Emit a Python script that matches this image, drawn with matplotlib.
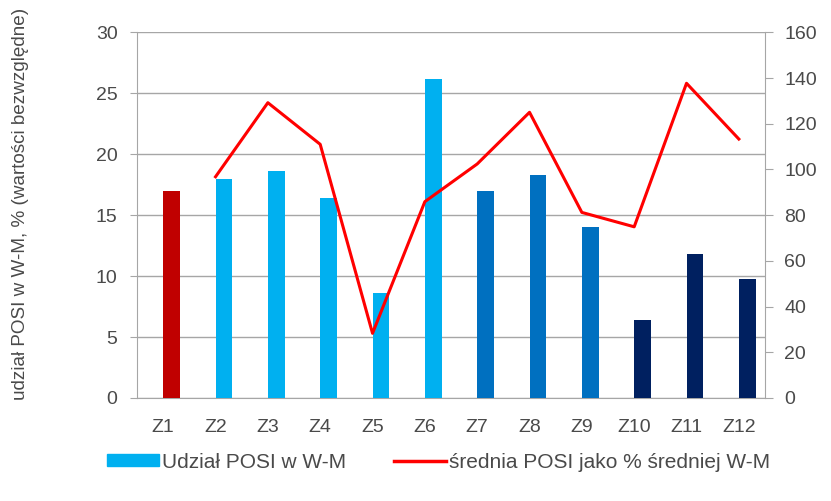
import numpy as np
import matplotlib.pyplot as plt
from matplotlib.patches import Patch
from matplotlib.lines import Line2D

plt.rcParams['font.family'] = ['Liberation Sans', 'DejaVu Sans']

# dane
kategorie = ['Z1', 'Z2', 'Z3', 'Z4', 'Z5', 'Z6', 'Z7', 'Z8', 'Z9', 'Z10', 'Z11', 'Z12']
udzial = [17.0, 18.0, 18.6, 16.4, 8.6, 26.2, 17.0, 18.3, 14.0, 6.4, 11.8, 9.8]
srednia = [None, 96.8, 129.2, 111.0, 28.3, 85.9, 102.4, 125.0, 81.2, 74.9, 137.7, 113.3]
kolory = ['#C00000'] + ['#00B0F0'] * 5 + ['#0070C0'] * 3 + ['#002060'] * 3

x = np.arange(len(kategorie))
sr = np.array([np.nan if v is None else v for v in srednia])

fs = 14
szary = '#4A4A4A'

fig = plt.figure(figsize=(8.31, 5.01), dpi=100)
ax = fig.add_axes([0.1649, 0.2056, 0.9206 - 0.1649, 0.9355 - 0.2056])

# slupki lekko przesuniete w prawo (jak w Excelu)
ax.bar(x + 0.16, udzial, width=0.32, color=kolory, zorder=3)
ax.set_xlim(-0.5, 11.5)
ax.set_ylim(0, 30)
ax.set_yticks(range(0, 31, 5))
ax.set_xticks(x)
ax.set_xticklabels(kategorie)
ax.grid(axis='y', color='#A6A6A6', linewidth=1, zorder=0)
for s in ['top', 'right']:
    ax.spines[s].set_visible(False)
for s in ['left', 'bottom']:
    ax.spines[s].set_color('#A6A6A6')
ax.tick_params(axis='x', length=0, pad=15, labelsize=fs, labelcolor=szary)
ax.tick_params(axis='y', length=5, color='#A6A6A6', pad=9, labelsize=fs, labelcolor=szary)

ax2 = ax.twinx()
ax2.plot(x, sr, color='#FF0000', linewidth=2.2, zorder=4)
ax2.set_ylim(0, 160)
ax2.set_yticks(range(0, 161, 20))
for s in ['top', 'left', 'bottom']:
    ax2.spines[s].set_visible(False)
ax2.spines['right'].set_color('#A6A6A6')
ax2.tick_params(axis='y', length=6, color='#A6A6A6', pad=8, labelsize=fs, labelcolor=szary)

fig.text(21 / 831, 1 - 204 / 501, 'udział POSI w W-M, % (wartości bezwzględne)',
         rotation=90, va='center', ha='center', fontsize=13.6, color=szary)

uchwyty = [Patch(color='#00B0F0'), Line2D([], [], color='#FF0000', linewidth=2.5)]
fig.legend(uchwyty, ['Udział POSI w W-M', 'średnia POSI jako % średniej W-M'],
           loc='center left', bbox_to_anchor=(107 / 831, 1 - 462 / 501), ncol=2,
           frameon=False, fontsize=15, handlelength=2.5, handletextpad=0.15,
           columnspacing=2.3, labelcolor=szary, handleheight=0.45,
           borderpad=0, borderaxespad=0)

fig.savefig('out.png', dpi=100)
